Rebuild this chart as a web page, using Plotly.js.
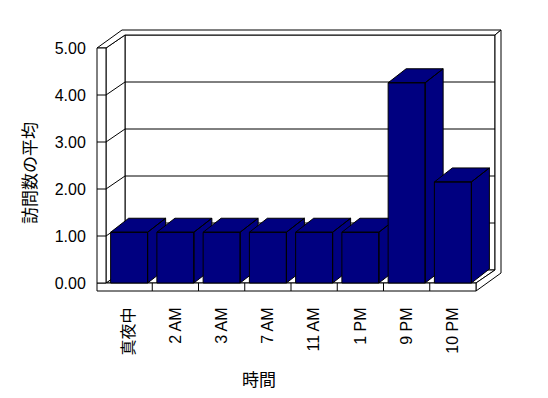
<!DOCTYPE html>
<html>
<head>
<meta charset="utf-8">
<script src="https://cdn.plot.ly/plotly-3.0.1.min.js"></script>
<style>html,body{margin:0;padding:0;background:#fff;}#chart{width:548px;height:398px;}</style>
</head>
<body>
<div id="chart"></div>
<script>
// ---- data ----
const categories = ['真夜中', '2 AM', '3 AM', '7 AM', '11 AM', '1 PM', '9 PM', '10 PM'];
const values = [1.08, 1.08, 1.08, 1.08, 1.08, 1.08, 4.26, 2.15];
const yTicks = [0, 1, 2, 3, 4, 5];
const xTitle = '時間';
const yTitle = '訪問数の平均';

// ---- geometry (pixel based styling, converted to axis units) ----
const W = 548, H = 398;
const catPx = 46.25, unitPx = 47;
const frontLeftPx = 106, zeroPx = 283;
const xRange = [-frontLeftPx / catPx - 0.5, (W - frontLeftPx) / catPx - 0.5];
const yRange = [(zeroPx - H) / unitPx, zeroPx / unitPx];
const px2x = p => p / catPx, px2y = p => p / unitPx;

const yMax = yTicks[yTicks.length - 1];
const xl = -0.5, xr = categories.length - 0.5;
const Wt = px2x(9);            // left wall thickness
const F = px2y(8);             // floor thickness
const Dx = px2x(19), Dy = px2y(13);   // depth
const Tx = px2x(6), Ty = px2y(5);     // back wall thickness
const hw = px2x(18.5);                // half bar width
const Bx = px2x(18), By = px2y(14);   // bar depth

const navy = '#000080';
const traces = [];
function poly(polys, fill, name) {
  const x = [], y = [];
  polys.forEach((p, k) => {
    if (k) { x.push(null); y.push(null); }
    p.forEach(pt => { x.push(pt[0]); y.push(pt[1]); });
    x.push(p[0][0]); y.push(p[0][1]);
  });
  traces.push({type: 'scatter', mode: 'lines', x, y, fill: fill ? 'toself' : 'none',
    fillcolor: fill || 'rgba(0,0,0,0)', line: {color: '#000', width: 1},
    hoverinfo: 'skip', showlegend: false, name: name || ''});
}
function lines(segs) {
  const x = [], y = [];
  segs.forEach((s, k) => {
    if (k) { x.push(null); y.push(null); }
    s.forEach(pt => { x.push(pt[0]); y.push(pt[1]); });
  });
  traces.push({type: 'scatter', mode: 'lines', x, y, line: {color: '#000', width: 1},
    hoverinfo: 'skip', showlegend: false});
}

// back wall front face
poly([[[xl + Dx, yMax + Dy], [xr + Dx, yMax + Dy], [xr + Dx, Dy], [xl + Dx, Dy]]], '#fff');
// floor top face
poly([[[xl, 0], [xr, 0], [xr + Dx, Dy], [xl + Dx, Dy]]], '#fff');
// left wall inner face
poly([[[xl, yMax], [xl + Dx, yMax + Dy], [xl + Dx, Dy], [xl, 0]]], '#fff');
// top of walls
poly([[[xl - Wt, yMax], [xl - Wt + Dx + Tx, yMax + Dy + Ty], [xr + Dx + Tx, yMax + Dy + Ty],
       [xr + Dx, yMax + Dy], [xl + Dx, yMax + Dy], [xl, yMax]]], '#fff');
// right side of back wall + floor
poly([[[xr, 0], [xr, -F], [xr + Dx + Tx, -F + Dy + Ty], [xr + Dx + Tx, yMax + Dy + Ty],
       [xr + Dx, yMax + Dy], [xr + Dx, Dy]]], '#fff');
// floor front face
poly([[[xl - Wt, 0], [xr, 0], [xr, -F], [xl - Wt, -F]]], '#fff');
// left wall front face
poly([[[xl - Wt, 0], [xl, 0], [xl, yMax], [xl - Wt, yMax]]], '#fff');

// gridlines and ticks
const grid = [];
yTicks.forEach(v => {
  if (v > 0 && v < yMax) {
    grid.push([[xl, v], [xl + Dx, v + Dy], [xr + Dx, v + Dy]]);
    grid.push([[xl - Wt, v], [xl, v]]);
  }
});
for (let k = 1; k < categories.length; k++) grid.push([[k - 0.5, 0], [k - 0.5, -F]]);
lines(grid);

// bars (left to right so nearer faces overlap correctly)
values.forEach((h, i) => {
  const front = [[i - hw, 0], [i + hw, 0], [i + hw, h], [i - hw, h]];
  const top = [[i - hw, h], [i + hw, h], [i + hw + Bx, h + By], [i - hw + Bx, h + By]];
  const side = [[i + hw, 0], [i + hw + Bx, By], [i + hw + Bx, h + By], [i + hw, h]];
  poly([side, top, front], navy, categories[i]);
});

const tickFont = {family: 'Liberation Sans, Arial, "Noto Sans CJK JP", sans-serif', size: 16, color: '#000'};
const layout = {
  width: W, height: H,
  margin: {l: 0, r: 0, t: 0, b: 0, pad: 0},
  paper_bgcolor: '#fff', plot_bgcolor: 'rgba(0,0,0,0)',
  showlegend: false,
  xaxis: {
    range: xRange, anchor: 'free', position: 1 - 291 / H,
    tickvals: categories.map((c, i) => i), ticktext: categories,
    tickangle: -90, tickfont: tickFont,
    ticks: 'outside', ticklen: 9, tickcolor: 'rgba(0,0,0,0)',
    showgrid: false, zeroline: false, showline: false, fixedrange: true
  },
  yaxis: {
    range: yRange, anchor: 'free', position: 97 / W,
    tickvals: yTicks, tickformat: '.2f', tickfont: tickFont,
    ticks: 'outside', ticklen: 8, tickcolor: 'rgba(0,0,0,0)',
    showgrid: false, zeroline: false, showline: false, fixedrange: true
  },
  annotations: [
    {text: yTitle, xref: 'paper', yref: 'paper', x: 28 / W, y: 1 - 173 / H, textangle: -90,
     showarrow: false, xanchor: 'center', yanchor: 'middle',
     font: {family: '"Noto Sans CJK JP", sans-serif', size: 17, color: '#000'}},
    {text: xTitle, xref: 'paper', yref: 'paper', x: 259 / W, y: 1 - 378 / H,
     showarrow: false, xanchor: 'center', yanchor: 'middle',
     font: {family: '"Noto Sans CJK JP", sans-serif', size: 17, color: '#000'}}
  ]
};
Plotly.newPlot('chart', traces, layout, {displayModeBar: false, staticPlot: true});
</script>
</body>
</html>
